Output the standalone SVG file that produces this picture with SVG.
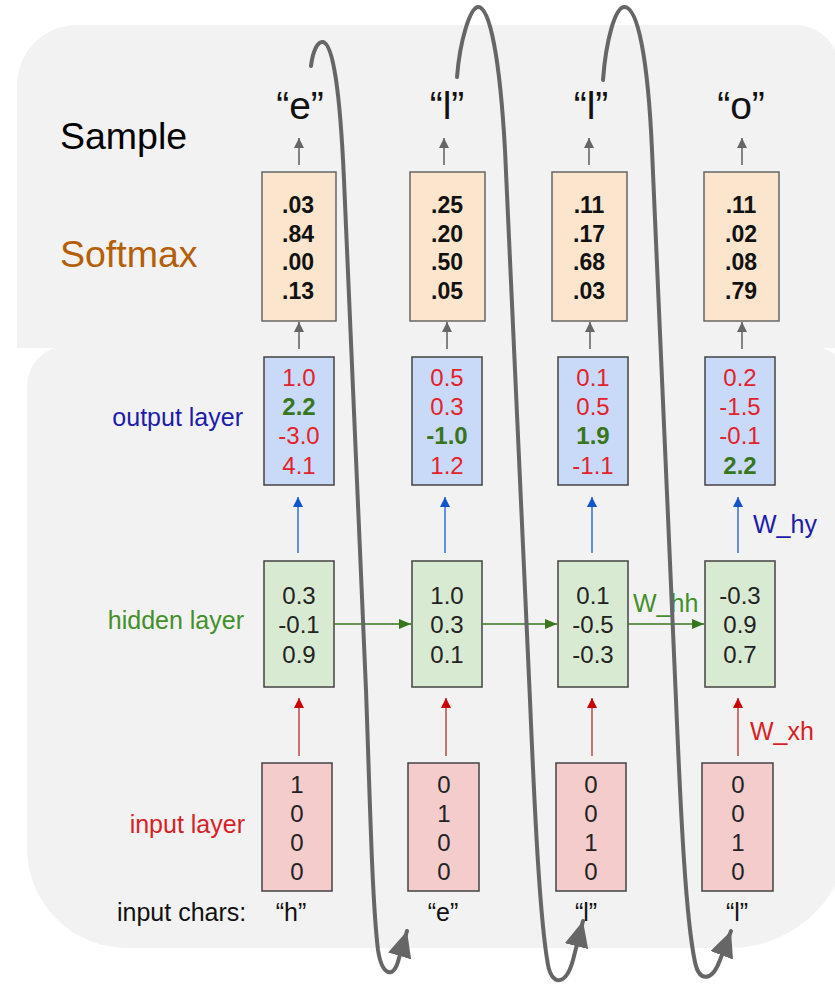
<svg xmlns="http://www.w3.org/2000/svg" width="835" height="985" viewBox="0 0 835 985">
<defs>
<style>
text{font-family:"Liberation Sans",Arial,sans-serif}
.sm{fill:#fce5cd;stroke:#666;stroke-width:1.5}
.out{fill:#c9daf8;stroke:#434343;stroke-width:1.5}
.hid{fill:#d9ead3;stroke:#434343;stroke-width:1.5}
.inp{fill:#f4cccc;stroke:#434343;stroke-width:1.5}
.smn{font-size:23px;font-weight:bold;fill:#111;text-anchor:middle}
.n{font-size:24px;text-anchor:middle;fill:#222}
.r{fill:#e3212b}
.g{fill:#38761d;font-weight:bold}
.lbl{font-size:25px;text-anchor:end}
.q{font-size:39px;text-anchor:middle;fill:#111}
.ch{font-size:25px;text-anchor:middle;fill:#111}
.ga{stroke:#666;stroke-width:1.6;fill:none}
.ba{stroke:#3c78d8;stroke-width:1.6;fill:none}
.ra{stroke:#c0504d;stroke-width:1.6;fill:none}
.gr{stroke:#38761d;stroke-width:1.6;fill:none}
.loop{stroke:#666;stroke-width:4;fill:none;stroke-linecap:round}
</style>
<marker id="mg" markerUnits="userSpaceOnUse" markerWidth="10" markerHeight="10" refX="10" refY="5" orient="auto"><path d="M0,0 L10,5 L0,10 z" fill="#666"/></marker>
<marker id="mb" markerUnits="userSpaceOnUse" markerWidth="10" markerHeight="10" refX="10" refY="5" orient="auto"><path d="M0,0 L10,5 L0,10 z" fill="#1155cc"/></marker>
<marker id="mr" markerUnits="userSpaceOnUse" markerWidth="10" markerHeight="10" refX="10" refY="5" orient="auto"><path d="M0,0 L10,5 L0,10 z" fill="#cc0000"/></marker>
<marker id="mgr" markerUnits="userSpaceOnUse" markerWidth="12" markerHeight="10" refX="12" refY="5" orient="auto"><path d="M0,0 L12,5 L0,10 z" fill="#38761d"/></marker>
<marker id="ml" markerUnits="userSpaceOnUse" markerWidth="28" markerHeight="24" refX="26" refY="12" orient="auto"><path d="M0,0 L26,12 L0,24 z" fill="#666"/></marker>
</defs>

<g id="panels">
<path d="M17 348 L17 85 A60 60 0 0 1 77 25 L795 25 A45 45 0 0 1 840 70 L840 348 Z" fill="#f2f2f2"/>
<path d="M67 346 L810 346 A40 40 0 0 1 850 386 L850 828 A120 120 0 0 1 730 948 L127 948 A100 100 0 0 1 27 848 L27 386 A40 40 0 0 1 67 346 Z" fill="#f2f2f2"/>
</g>

<g id="labels">
<text x="60" y="149" font-size="37.5" fill="#000">Sample</text>
<text x="60" y="267" font-size="37.5" fill="#b45f06">Softmax</text>
<text class="lbl" x="243" y="426" fill="#1c1caa">output layer</text>
<text class="lbl" x="244" y="629" fill="#43902a">hidden layer</text>
<text class="lbl" x="245" y="833" fill="#d81f26">input layer</text>
<text x="117" y="921" font-size="25" fill="#111">input chars:</text>
<text x="753" y="533" font-size="25" fill="#1c1caa">W_hy</text>
<text x="750" y="740" font-size="25" fill="#d81f26">W_xh</text>
<text x="633" y="612" font-size="25" fill="#43902a">W_hh</text>
</g>

<g id="samples">
<text class="q" x="300" y="119">“e”</text>
<text class="q" x="447" y="119">“l”</text>
<text class="q" x="591" y="119">“l”</text>
<text class="q" x="741" y="119">“o”</text>
</g>

<g id="softmax1"><rect class="sm" x="262" y="172" width="74" height="149"/>
<text class="smn" x="298" y="213">.03</text><text class="smn" x="298" y="241.5">.84</text><text class="smn" x="298" y="270">.00</text><text class="smn" x="298" y="298.5">.13</text></g>
<g id="softmax2"><rect class="sm" x="410" y="172" width="75" height="149"/>
<text class="smn" x="447" y="213">.25</text><text class="smn" x="447" y="241.5">.20</text><text class="smn" x="447" y="270">.50</text><text class="smn" x="447" y="298.5">.05</text></g>
<g id="softmax3"><rect class="sm" x="552" y="172" width="75" height="149"/>
<text class="smn" x="589" y="213">.11</text><text class="smn" x="589" y="241.5">.17</text><text class="smn" x="589" y="270">.68</text><text class="smn" x="589" y="298.5">.03</text></g>
<g id="softmax4"><rect class="sm" x="704" y="172" width="75" height="149"/>
<text class="smn" x="741" y="213">.11</text><text class="smn" x="741" y="241.5">.02</text><text class="smn" x="741" y="270">.08</text><text class="smn" x="741" y="298.5">.79</text></g>

<g id="output1"><rect class="out" x="264" y="357" width="70" height="128"/>
<text class="n r" x="299" y="386">1.0</text><text class="n g" x="299" y="415">2.2</text><text class="n r" x="299" y="444">-3.0</text><text class="n r" x="299" y="474">4.1</text></g>
<g id="output2"><rect class="out" x="412" y="357" width="70" height="128"/>
<text class="n r" x="447" y="386">0.5</text><text class="n r" x="447" y="415">0.3</text><text class="n g" x="447" y="444">-1.0</text><text class="n r" x="447" y="474">1.2</text></g>
<g id="output3"><rect class="out" x="558" y="357" width="70" height="128"/>
<text class="n r" x="593" y="386">0.1</text><text class="n r" x="593" y="415">0.5</text><text class="n g" x="593" y="444">1.9</text><text class="n r" x="593" y="474">-1.1</text></g>
<g id="output4"><rect class="out" x="705" y="357" width="70" height="128"/>
<text class="n r" x="740" y="386">0.2</text><text class="n r" x="740" y="415">-1.5</text><text class="n r" x="740" y="444">-0.1</text><text class="n g" x="740" y="474">2.2</text></g>

<g id="hidden1"><rect class="hid" x="264" y="561" width="70" height="126"/>
<text class="n" x="299" y="604">0.3</text><text class="n" x="299" y="633">-0.1</text><text class="n" x="299" y="663">0.9</text></g>
<g id="hidden2"><rect class="hid" x="412" y="561" width="70" height="126"/>
<text class="n" x="447" y="604">1.0</text><text class="n" x="447" y="633">0.3</text><text class="n" x="447" y="663">0.1</text></g>
<g id="hidden3"><rect class="hid" x="558" y="561" width="70" height="126"/>
<text class="n" x="593" y="604">0.1</text><text class="n" x="593" y="633">-0.5</text><text class="n" x="593" y="663">-0.3</text></g>
<g id="hidden4"><rect class="hid" x="705" y="561" width="70" height="126"/>
<text class="n" x="740" y="604">-0.3</text><text class="n" x="740" y="633">0.9</text><text class="n" x="740" y="663">0.7</text></g>

<g id="input1"><rect class="inp" x="262" y="763" width="70" height="128"/>
<text class="n" x="297" y="793">1</text><text class="n" x="297" y="822">0</text><text class="n" x="297" y="851">0</text><text class="n" x="297" y="880">0</text></g>
<g id="input2"><rect class="inp" x="408" y="763" width="71" height="128"/>
<text class="n" x="444" y="793">0</text><text class="n" x="444" y="822">1</text><text class="n" x="444" y="851">0</text><text class="n" x="444" y="880">0</text></g>
<g id="input3"><rect class="inp" x="556" y="763" width="70" height="128"/>
<text class="n" x="591" y="793">0</text><text class="n" x="591" y="822">0</text><text class="n" x="591" y="851">1</text><text class="n" x="591" y="880">0</text></g>
<g id="input4"><rect class="inp" x="702" y="763" width="71" height="128"/>
<text class="n" x="738" y="793">0</text><text class="n" x="738" y="822">0</text><text class="n" x="738" y="851">1</text><text class="n" x="738" y="880">0</text></g>

<g id="chars">
<text class="ch" x="291" y="921">“h”</text>
<text class="ch" x="443" y="921">“e”</text>
<text class="ch" x="586" y="921">“l”</text>
<text class="ch" x="737" y="921">“l”</text>
</g>

<g id="connectors">
<path class="ga" marker-end="url(#mg)" d="M299 165 L299 138"/>
<path class="ga" marker-end="url(#mg)" d="M444 165 L444 138"/>
<path class="ga" marker-end="url(#mg)" d="M589 165 L589 138"/>
<path class="ga" marker-end="url(#mg)" d="M742 165 L742 138"/>
<path class="ga" marker-end="url(#mg)" d="M299 349 L299 322"/>
<path class="ga" marker-end="url(#mg)" d="M447 349 L447 322"/>
<path class="ga" marker-end="url(#mg)" d="M590 349 L590 322"/>
<path class="ga" marker-end="url(#mg)" d="M742 349 L742 322"/>
<path class="ba" marker-end="url(#mb)" d="M298 553 L298 497"/>
<path class="ba" marker-end="url(#mb)" d="M445 553 L445 497"/>
<path class="ba" marker-end="url(#mb)" d="M592 553 L592 497"/>
<path class="ba" marker-end="url(#mb)" d="M738 553 L738 497"/>
<path class="ra" marker-end="url(#mr)" d="M299 756 L299 698"/>
<path class="ra" marker-end="url(#mr)" d="M446 756 L446 698"/>
<path class="ra" marker-end="url(#mr)" d="M592 756 L592 698"/>
<path class="ra" marker-end="url(#mr)" d="M738 756 L738 698"/>
<path class="gr" marker-end="url(#mgr)" d="M334 624 L411 624"/>
<path class="gr" marker-end="url(#mgr)" d="M482 624 L557 624"/>
<path class="gr" marker-end="url(#mgr)" d="M628 624 L704 624"/>
<path class="loop" marker-end="url(#ml)" d="M311 66 C313 50 318 41 323 42 C333 44 340 90 344 180 L366 690 C370 800 372 900 378 950 C382 976 394 980 399 958 L407 931"/>
<path class="loop" marker-end="url(#ml)" d="M457 77 C460 40 470 8 478 7 C490 6 500 60 505 150 L530 700 C535 820 540 920 548 965 C552 986 566 986 573 960 L583 921"/>
<path class="loop" marker-end="url(#ml)" d="M603 80 C606 40 615 8 624 7 C638 6 648 60 652 150 L676 700 C681 820 686 920 695 962 C699 982 712 982 720 960 L731 931"/>
</g>
</svg>
